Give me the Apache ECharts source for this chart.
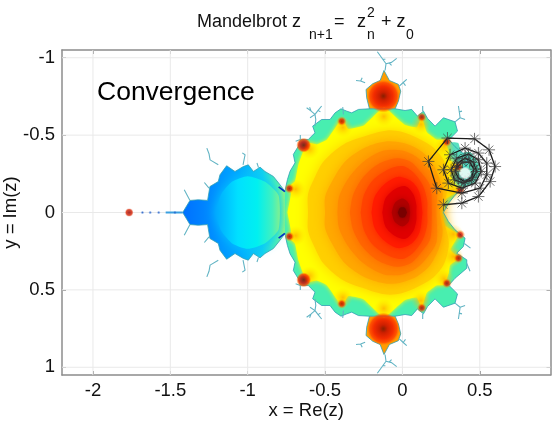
<!DOCTYPE html>
<html><head><meta charset="utf-8">
<script src="https://cdn.jsdelivr.net/npm/echarts@6/dist/echarts.min.js"></script>
<style>html,body{margin:0;padding:0;background:#fff}#c{width:552px;height:425px;filter:blur(0.45px)}</style>
</head><body><div id="c"></div>
<script>
const xTicks=[-2,-1.5,-1,-0.5,0,0.5];
const yTicks=[-1,-0.5,0,0.5,1];
// upper-half outlines as [Re, |Im|]; the picture is mirror-symmetric about Im = 0
const bodyEdge=[[-.76,.135],[-.743,.213],[-.726,.267],[-.694,.321],[-.705,.375],[-.672,.429],[-.66,.472],[-.608,.472],[-.565,.515],[-.58,.558],[-.522,.601],[-.468,.601],[-.435,.644],[-.397,.67],[-.36,.655],[-.328,.644],[-.284,.666],[-.213,.67],[-.047,.67],[.017,.659],[.06,.666],[.097,.623],[.136,.655],[.162,.608],[.211,.558],[.265,.612],[.34,.586],[.356,.526],[.3,.47],[.34,.425],[.416,.36],[.416,.306],[.351,.263],[.394,.22],[.405,.166],[.34,.112],[.297,.058],[.265,0]];
const topBulb=[[-.213,.67],[-.231,.741],[-.235,.795],[-.192,.832],[-.144,.853],[-.119,.918],[-.084,.853],[-.026,.828],[-.011,.784],[-.026,.72],[-.047,.67]];
const leftEdge=[[-.759,.136],[-.791,.179],[-.834,.233],[-.888,.265],[-.92,.293],[-.963,.265],[-.996,.308],[-1.028,.297],[-1.082,.265],[-1.136,.302],[-1.179,.244],[-1.19,.2],[-1.244,.168],[-1.259,.078],[-1.319,.082],[-1.373,.078],[-1.42,0]];
const leftInner=[[-.8,.11],[-.89,.2],[-1,.235],[-1.1,.2],[-1.17,.12],[-1.21,0]];
const levelYellow=[[-.743,0],[-.72,.12],[-.726,.17],[-.694,.203],[-.672,.31],[-.64,.397],[-.608,.45],[-.554,.44],[-.489,.47],[-.425,.56],[-.392,.608],[-.349,.54],[-.252,.56],[-.188,.62],[-.119,.68],[-.047,.62],[.017,.565],[.093,.55],[.125,.616],[.157,.52],[.222,.47],[.265,.47],[.287,.429],[.3,.39],[.308,.34],[.362,.295],[.31,.241],[.362,.144],[.27,.08],[.25,0]];
const levelAmber=[[-.61,0],[-.61,.12],[-.57,.22],[-.51,.33],[-.38,.44],[-.22,.5],[-.1,.53],[0,.52],[.1,.48],[.2,.42],[.27,.33],[.3,.2],[.28,.1],[.25,0]];
const levelOrange=[[-.5,0],[-.5,.1],[-.45,.21],[-.37,.33],[-.24,.42],[-.1,.46],[0,.45],[.1,.41],[.18,.34],[.24,.22],[.26,.12],[.24,0]];
const levelGold=[[-.42,0],[-.41,.1],[-.35,.22],[-.25,.33],[-.12,.4],[0,.4],[.09,.36],[.16,.29],[.22,.19],[.22,0]];
const levelDeepOrange=[[-.34,0],[-.32,.11],[-.26,.22],[-.16,.31],[-.04,.35],[.05,.33],[.12,.26],[.18,.17],[.19,0]];
const levelScarlet=[[-.27,0],[-.25,.11],[-.19,.21],[-.09,.28],[0,.3],[.07,.26],[.13,.18],[.16,.08],[.16,0]];
const levelRed=[[-.2,0],[-.18,.1],[-.12,.18],[-.03,.23],[.06,.2],[.11,.13],[.13,0]];
const levelCrimson=[[-.13,0],[-.11,.09],[-.05,.15],[.02,.17],[.07,.12],[.09,.05],[.09,0]];
const levelDark=[[-.07,0],[-.05,.06],[0,.09],[.04,.06],[.05,0]];
const levelCore=[[-.03,0],[-.015,.03],[.015,.03],[.03,0]];
const filaments=[[-.162,1.039],[-.134,1],[-.106,.961],[-.112,.918],null,[-.106,.961],[-.07,.97],[-.037,.996],null,[-.085,.965],[-.07,.95],null,[-.13,.99],[-.11,.99],null,[-.241,.838],[-.27,.85],[-.3,.853],null,[-.27,.85],[-.26,.87],null,[-.02,.817],[.005,.84],[.028,.86],null,[.005,.84],[.02,.82],null,[-.565,.558],[-.56,.6],[-.565,.634],[-.59,.655],[-.619,.677],null,[-.565,.634],[-.545,.66],[-.522,.688],null,[-.597,.612],[-.565,.634],null,[-.59,.655],[-.6,.68],null,[-.545,.66],[-.53,.65],null,[-.381,.634],[-.386,.681],null,[.131,.655],[.131,.688],null,[.34,.586],[.373,.612],[.362,.688],null,[.373,.612],[.405,.601],null,[.366,.65],[.385,.655],null,[-.66,.472],[-.69,.46],null,[-.66,.472],[-.66,.5],null,[.416,.33],[.437,.38],null,[.4,.2],[.44,.23],null,[-1.19,.308],[-1.243,.34],[-1.25,.38],[-1.264,.416],null,[-1.03,.308],[-1.017,.373],[-1.035,.385],null,[-.93,.29],[-.94,.32],null,[-1.25,.157],[-1.28,.194],null,[-1.373,.078],[-1.41,.147]];
const satellite=[[.3,-.45],[.36,-.45],[.38,-.39],[.44,-.39],[.49,-.32],[.5,-.25],[.46,-.19],[.41,-.17],[.36,-.13],[.31,-.12],[.32,-.2],[.3,-.3],[.32,-.38]];
const orbitHole=[[.405,-.254]];
const spineDots=[[-1.63,0],[-1.575,0],[-1.68,0],[-1.47,0]];
const tail=[[-1.53,0],[-1.42,0]];
const farBulb=[[-1.766,0]];
const glowSpots=[[-.69,.15],[-.6,.41],[-.385,.55],[-.12,.62],[.12,.57],[.27,.43],[.33,.285],[.33,.14]];
const neckSpots=[[-.73,.155],[-.73,-.155],[-.392,.59],[-.392,-.59],[.125,.616],[.125,-.616],[.373,.144],[.373,-.144],[.362,.295],[.362,-.295],[.287,.457],[.287,-.457]];
const bigSpots=[[-.638,.435],[-.638,-.435]];
const topSpots=[[-.123,.752],[-.123,-.752]];
const orbit=[[.265,-.05],[.384,-.06],[.491,-.103],[.567,-.2],[.599,-.297],[.56,-.405],[.466,-.476],[.291,-.481],[.168,-.33],[.222,-.157],[.384,-.125],[.502,-.157],[.545,-.244],[.545,-.319],[.491,-.384],[.405,-.416],[.308,-.373],[.265,-.276],[.297,-.19],[.384,-.157],[.47,-.19],[.509,-.265],[.491,-.341],[.427,-.377],[.351,-.351],[.315,-.276],[.336,-.211],[.394,-.19],[.448,-.211],[.48,-.265],[.459,-.325],[.405,-.351],[.358,-.319],[.341,-.265],[.362,-.222],[.405,-.2],[.448,-.228],[.462,-.28],[.435,-.325],[.388,-.325],[.352,-.29]];

const closed=p=>p.concat(p.slice().reverse().map(q=>[q[0],-q[1]]));
const flip=p=>p.map(q=>q&&[q[0],-q[1]]);
const withBreak=(a,b)=>a.concat([null],b);
function poly(pts,style,smooth){
  return {type:'custom',coordinateSystem:'cartesian2d',xAxisIndex:0,yAxisIndex:0,silent:true,clip:true,
    data:pts,encode:{x:0,y:1},
    renderItem(params,api){
      if(params.dataIndex!==0) return null;
      return {type:'polygon',shape:{points:pts.map(q=>api.coord(q)),smooth:smooth||0},style:style};
    }};
}
function level(pts,color,blur,smooth){
  return poly(closed(pts),{fill:color,shadowBlur:blur,shadowColor:color},smooth);
}
function lineS(data,color,width){
  return {type:'line',xAxisIndex:0,yAxisIndex:0,data:data.map(q=>q?q:[null,null]),showSymbol:false,silent:true,connectNulls:false,
    lineStyle:{color:color,width:width},itemStyle:{color:color}};
}
function dots(data,size,stops){
  return {type:'scatter',xAxisIndex:0,yAxisIndex:0,silent:true,data:data,symbolSize:size,
    itemStyle:{color:new echarts.graphic.RadialGradient(.5,.5,.5,stops)}};
}
const axisBase={axisLine:{show:true,onZero:false,lineStyle:{color:'#8c8c8c',width:1.5}}};
const star='path://M0,-10V10M-10,0H10M-7,-7L7,7M-7,7L7,-7';
const lab={color:'#111',fontSize:18.5,fontFamily:'Liberation Sans'};
const glow=[{offset:0,color:'rgba(255,140,0,.7)'},{offset:.5,color:'rgba(255,175,0,.35)'},{offset:1,color:'rgba(255,210,0,0)'}];
const seriesList=[
    lineS(withBreak(xTicks.flatMap(v=>[[v,-1.05],[v,1.05],null]).slice(0,-1),yTicks.flatMap(v=>[[-2.2,v],[.957,v],null]).slice(0,-1)),'#e9e9e9',1),
    poly(closed(leftEdge),{fill:new echarts.graphic.LinearGradient(0,0,1,0,[{offset:0,color:'#0070ff'},{offset:.25,color:'#0088ff'},{offset:.55,color:'#00a8ff'},{offset:.78,color:'#10d0f0'},{offset:.92,color:'#50f0b0'},{offset:1,color:'#a0f870'}])}),
    poly(closed(leftInner),{fill:new echarts.graphic.LinearGradient(0,0,1,0,[{offset:0,color:'#00a8ff'},{offset:.35,color:'#00e0ff'},{offset:.65,color:'#00f0f0'},{offset:.88,color:'#40f0c0'},{offset:1,color:'#80f090'}]),shadowBlur:12,shadowColor:'#00c8ff'},.2),
    poly(closed(bodyEdge),{fill:'#48eeb0'}),
    poly(satellite,{fill:'#58e0c0'},.2),
    poly(topBulb,{fill:'#ff9c00'}),
    poly(flip(topBulb),{fill:'#ff9c00'}),
    level(levelYellow,'#ffff00',4,.12),
    level(levelAmber,'#ffd000',14,.3),
    level(levelOrange,'#ffaa00',14,.3),
    level(levelGold,'#ff8a00',14,.3),
    level(levelDeepOrange,'#ff6800',12,.3),
    level(levelScarlet,'#ff4400',12,.3),
    level(levelRed,'#ff1c00',10,.3),
    level(levelCrimson,'#e00000',10,.3),
    level(levelDark,'#b00000',8,.3),
    level(levelCore,'#780000',5,.3),
    dots(glowSpots.concat(flip(glowSpots)),20,glow),
    lineS(withBreak(withBreak(bodyEdge,flip(bodyEdge)),withBreak(leftEdge,flip(leftEdge))),'#2f9fb4',.8),
    lineS(withBreak(topBulb,flip(topBulb)),'#2f9fb4',.8),
    lineS(withBreak(filaments,flip(filaments)),'#62b4c4',1.1),
    lineS(withBreak([[-.8,.165],[-.76,.135]],[[-.8,-.165],[-.76,-.135]]),'#0030c8',1.6),
    lineS(tail,'#3aa0e0',2),
    dots(topSpots,32,[{offset:0,color:'#6a0000'},{offset:.25,color:'#c00000'},{offset:.6,color:'#f01000'},{offset:.85,color:'#ff4000'},{offset:1,color:'rgba(255,110,0,.2)'}]),
    dots(bigSpots,15,[{offset:0,color:'#700000'},{offset:.45,color:'#d80000'},{offset:.75,color:'#ff4000'},{offset:1,color:'rgba(255,150,0,0)'}]),
    dots(neckSpots,10,[{offset:0,color:'#a00000'},{offset:.45,color:'#e82000'},{offset:1,color:'rgba(255,170,0,0)'}]),
    dots(farBulb,8,[{offset:0,color:'#900000'},{offset:.7,color:'#d82000'},{offset:1,color:'rgba(220,40,0,.3)'}]),
    dots(spineDots,3,[{offset:0,color:'#1050c0'},{offset:1,color:'rgba(60,120,220,.4)'}]),
    {type:'line',xAxisIndex:0,yAxisIndex:0,data:orbit,silent:true,showSymbol:true,showAllSymbol:true,symbol:star,symbolSize:12,
     lineStyle:{color:'#1a1a1a',width:1.3},itemStyle:{color:'rgba(0,0,0,0)',borderColor:'#3a3a3a',borderWidth:.7}},
    dots(orbitHole,13,[{offset:0,color:'#fff'},{offset:.7,color:'#fff'},{offset:1,color:'rgba(255,255,255,0)'}])
];
seriesList.forEach((s,i)=>{s.z=2+i;});
const option={
  animation:false,backgroundColor:'#fff',
  grid:{left:62,right:1.5,top:50,bottom:50,show:false,outerBoundsMode:'none',containLabel:false},
  xAxis:[
    {type:'value',min:-2.2,max:.957,position:'bottom',...axisBase,
     axisTick:{show:true,inside:true,length:4,lineStyle:{color:'#8c8c8c'},customValues:xTicks},
     axisLabel:{...lab,margin:6,customValues:xTicks,formatter:v=>String(v)},
     splitLine:{show:false},name:'x = Re(z)',nameLocation:'middle',nameGap:26,nameMoveOverlap:false,nameTextStyle:lab},
    {type:'value',min:-2.2,max:.957,position:'top',...axisBase,
     axisTick:{show:true,inside:true,length:4,lineStyle:{color:'#8c8c8c'},customValues:xTicks},
     axisLabel:{show:false},splitLine:{show:false}}
  ],
  yAxis:[
    {type:'value',min:-1.05,max:1.05,inverse:true,position:'left',...axisBase,
     axisTick:{show:true,inside:true,length:4,lineStyle:{color:'#8c8c8c'},customValues:yTicks},
     axisLabel:{...lab,margin:7,customValues:yTicks,formatter:v=>String(v)},
     splitLine:{show:false},name:'y = Im(z)',nameLocation:'middle',nameGap:42,nameMoveOverlap:false,nameTextStyle:lab},
    {type:'value',min:-1.05,max:1.05,inverse:true,position:'right',...axisBase,
     axisTick:{show:true,inside:true,length:4,lineStyle:{color:'#8c8c8c'},customValues:yTicks},
     axisLabel:{show:false},splitLine:{show:false}}
  ],
  graphic:[
    ['Mandelbrot z',197,29,18],['n+1',309,40,14],['=',334,29,18],['z',357,29,18],['2',367,18,14],['n',367,40,14],['+ z',381,29,18],['0',406,40,14]
  ].map(t=>({type:'text',left:t[1],top:t[2]-t[3]*.86,silent:true,z:100,style:{text:t[0],fontSize:t[3],fontFamily:'Liberation Sans',fill:'#111'}}))
   .concat([{type:'text',left:97,top:79,silent:true,z:100,style:{text:'Convergence',fontSize:26.5,fontFamily:'Liberation Sans',fill:'#000'}}]),
  series:seriesList
};
const chart=echarts.init(document.getElementById('c'),null,{renderer:'canvas'});
chart.setOption(option);
</script></body></html>
